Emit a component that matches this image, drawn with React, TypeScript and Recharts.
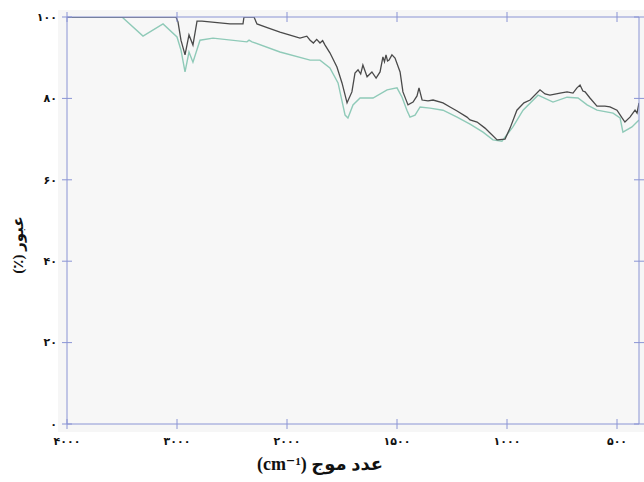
import { LineChart, Line, XAxis, YAxis, CartesianGrid } from 'recharts';

// FTIR spectrum, wavenumber in cm-1, transmittance in %
const darkWavenumbers = [
  4000, 3009, 2991, 2964, 2927, 2891, 2855, 2818, 2773, 2518, 2400, 2391, 2300, 2273, 2180,
  2064, 1990, 1941, 1910, 1895, 1880, 1865, 1850, 1838, 1827, 1805, 1773, 1750, 1727, 1705,
  1691, 1677, 1665, 1655, 1636, 1614, 1595, 1577, 1564, 1557, 1550, 1543, 1536, 1523, 1509,
  1486, 1473, 1450, 1427, 1409, 1400, 1386, 1359, 1336, 1291, 1259, 1227, 1182, 1168, 1136,
  1100, 1077, 1045, 1009, 986, 955, 923, 895, 850, 827, 805, 759, 727, 700, 682, 668, 655,
  645, 623, 591, 555, 532, 500, 477, 464, 441, 418, 409, 400,
];
const darkTransmittance = [
  100, 100, 98.8, 94.3, 90.7, 95.6, 93.1, 99.0, 99.0, 98.3, 98.3, 100, 100, 98.3, 97.4,
  96.3, 95.6, 94.8, 95.3, 94.3, 93.6, 94.5, 93.6, 94.2, 93.1, 91.2, 87.7, 83.8, 78.9, 81.6,
  86.2, 87.0, 86.0, 88.2, 85.3, 86.5, 85.0, 86.5, 90.2, 89.0, 90.7, 89.2, 89.4, 90.7, 89.9,
  86.5, 81.6, 78.4, 79.1, 80.6, 82.6, 79.6, 79.4, 79.6, 78.9, 77.9, 76.9, 75.4, 74.7, 74.2,
  72.7, 71.5, 69.8, 70.0, 72.7, 77.1, 78.9, 79.6, 82.1, 81.1, 80.8, 81.3, 81.6, 81.3, 82.6,
  83.3, 81.8, 81.6, 80.1, 78.1, 78.1, 77.9, 77.1, 75.2, 74.2, 75.4, 77.1, 76.4, 78.9,
];

const tealWavenumbers = [
  4000, 3500, 3309, 3127, 3000, 2964, 2927, 2891, 2855, 2791, 2673, 2364, 2345, 2318, 2064,
  1895, 1850, 1805, 1768, 1736, 1723, 1700, 1668, 1609, 1545, 1500, 1477, 1455, 1441, 1418,
  1395, 1350, 1291, 1227, 1168, 1109, 1064, 1023, 973, 927, 859, 791, 727, 677, 636, 591,
  518, 486, 473, 432, 400,
];
const tealTransmittance = [
  100, 100, 95.3, 98.3, 95.1, 91.9, 86.5, 91.4, 88.9, 94.3, 94.8, 93.9, 94.3, 93.9, 91.4,
  89.4, 89.4, 87.5, 83.8, 75.9, 75.2, 78.4, 80.1, 80.1, 82.1, 82.6, 80.3, 77.1, 75.4, 75.9,
  77.9, 77.6, 77.1, 75.4, 73.7, 71.7, 69.8, 69.5, 73.0, 77.1, 80.8, 79.1, 80.3, 80.1, 78.4,
  77.1, 76.4, 75.2, 71.7, 73.0, 74.7,
];

const xTickWavenumbers = [4000, 3000, 2000, 1500, 1000, 500];
const xTickLabels = ['۴۰۰۰', '۳۰۰۰', '۲۰۰۰', '۱۵۰۰', '۱۰۰۰', '۵۰۰'];
const yTicks = [0, 20, 40, 60, 80, 100];
const yTickLabels = ['۰', '۲۰', '۴۰', '۶۰', '۸۰', '۱۰۰'];

// the instrument halves the scale below 2000 cm-1
const toPos = (wn: number) => (wn >= 2000 ? (4000 - wn) / 1000 : 2 + (2000 - wn) / 500);

const darkData = darkWavenumbers.map((wn, i) => ({ pos: toPos(wn), t: darkTransmittance[i] }));
const tealData = tealWavenumbers.map((wn, i) => ({ pos: toPos(wn), t: tealTransmittance[i] }));
const xTicks = xTickWavenumbers.map(toPos);

const AXIS = '#8a94d4';
const FONT = '"DejaVu Sans", sans-serif';
const TICK_SIZE = 5;
const TICK_MARGIN = 5;

function BottomTick(props: any) {
  const { x, y, payload, index } = props;
  const axisY = y - TICK_SIZE - TICK_MARGIN;
  return (
    <g>
      <line x1={x} x2={x} y1={axisY - 5} y2={axisY + 5} stroke={AXIS} />
      <text x={x} y={axisY + 21} textAnchor="middle" fontSize={11} fontWeight="bold" fill="#111" fontFamily={FONT}>
        {xTickLabels[index] ?? payload.value}
      </text>
    </g>
  );
}

function TopTick(props: any) {
  const { x, y } = props;
  const axisY = y + TICK_SIZE + TICK_MARGIN;
  return <line x1={x} x2={x} y1={axisY - 5} y2={axisY + 5} stroke={AXIS} />;
}

function LeftTick(props: any) {
  const { x, y, index } = props;
  const axisX = x + TICK_SIZE + TICK_MARGIN;
  return (
    <g>
      <line x1={axisX - 5} x2={axisX + 5} y1={y} y2={y} stroke={AXIS} />
      <text x={x} y={y} dy="0.35em" textAnchor="end" fontSize={11} fontWeight="bold" fill="#111" fontFamily={FONT}>
        {yTickLabels[index]}
      </text>
    </g>
  );
}

function RightTick(props: any) {
  const { x, y } = props;
  const axisX = x - TICK_SIZE - TICK_MARGIN;
  return <line x1={axisX - 5} x2={axisX + 5} y1={y} y2={y} stroke={AXIS} />;
}

export default function App() {
  return (
    <div style={{ position: 'absolute', left: 0, top: 0, width: 644, height: 482, background: '#fff' }}>
      <div style={{ position: 'absolute', left: 58, top: 10, width: 586, height: 422, background: '#f6f6f6' }} />
      <div style={{ position: 'absolute', left: 0, top: 0 }}>
        <LineChart width={644} height={482} margin={{ top: 12, right: 0, bottom: 28, left: 0 }}>
          <CartesianGrid horizontal={false} vertical={false} fill="#f7f7f7" />
          <XAxis
            xAxisId="bottom"
            type="number"
            dataKey="pos"
            domain={[0, 5.2]}
            ticks={xTicks}
            height={30}
            stroke={AXIS}
            tickLine={false}
            tickSize={TICK_SIZE}
            tickMargin={TICK_MARGIN}
            tick={BottomTick}
            interval={0}
            allowDataOverflow
          />
          <XAxis
            xAxisId="top"
            orientation="top"
            type="number"
            dataKey="pos"
            domain={[0, 5.2]}
            ticks={xTicks}
            height={5}
            stroke={AXIS}
            tickLine={false}
            tickSize={TICK_SIZE}
            tickMargin={TICK_MARGIN}
            tick={TopTick}
            interval={0}
            allowDataOverflow
          />
          <YAxis
            yAxisId="left"
            type="number"
            domain={[0, 100]}
            ticks={yTicks}
            width={67}
            stroke={AXIS}
            tickLine={false}
            tickSize={TICK_SIZE}
            tickMargin={TICK_MARGIN}
            tick={LeftTick}
            interval={0}
            allowDataOverflow
          />
          <YAxis
            yAxisId="right"
            orientation="right"
            type="number"
            domain={[0, 100]}
            ticks={yTicks}
            width={5}
            stroke={AXIS}
            tickLine={false}
            tickSize={TICK_SIZE}
            tickMargin={TICK_MARGIN}
            tick={RightTick}
            interval={0}
            allowDataOverflow
          />
          <Line
            xAxisId="bottom"
            yAxisId="left"
            data={tealData}
            dataKey="t"
            type="linear"
            stroke="#8fcab8"
            strokeWidth={1.4}
            dot={false}
            isAnimationActive={false}
          />
          <Line
            xAxisId="bottom"
            yAxisId="left"
            data={darkData}
            dataKey="t"
            type="linear"
            stroke="#4a4a4a"
            strokeWidth={1.3}
            dot={false}
            isAnimationActive={false}
          />
        </LineChart>
      </div>
      <div
        dir="rtl"
        style={{
          position: 'absolute',
          left: 220,
          top: 453,
          width: 200,
          textAlign: 'center',
          fontFamily: '"Liberation Serif", "DejaVu Sans", serif',
          fontWeight: 'bold',
          fontSize: 18,
          lineHeight: '22px',
          color: '#111',
          whiteSpace: 'nowrap',
        }}
      >
        عدد موج (cm⁻¹)
      </div>
      <div
        dir="rtl"
        style={{
          position: 'absolute',
          left: 18,
          top: 245,
          transform: 'translate(-50%, -50%) rotate(-90deg)',
          fontFamily: '"Liberation Serif", "DejaVu Sans", serif',
          fontWeight: 'bold',
          fontSize: 15,
          color: '#111',
          whiteSpace: 'nowrap',
        }}
      >
        عبور (٪)
      </div>
    </div>
  );
}
